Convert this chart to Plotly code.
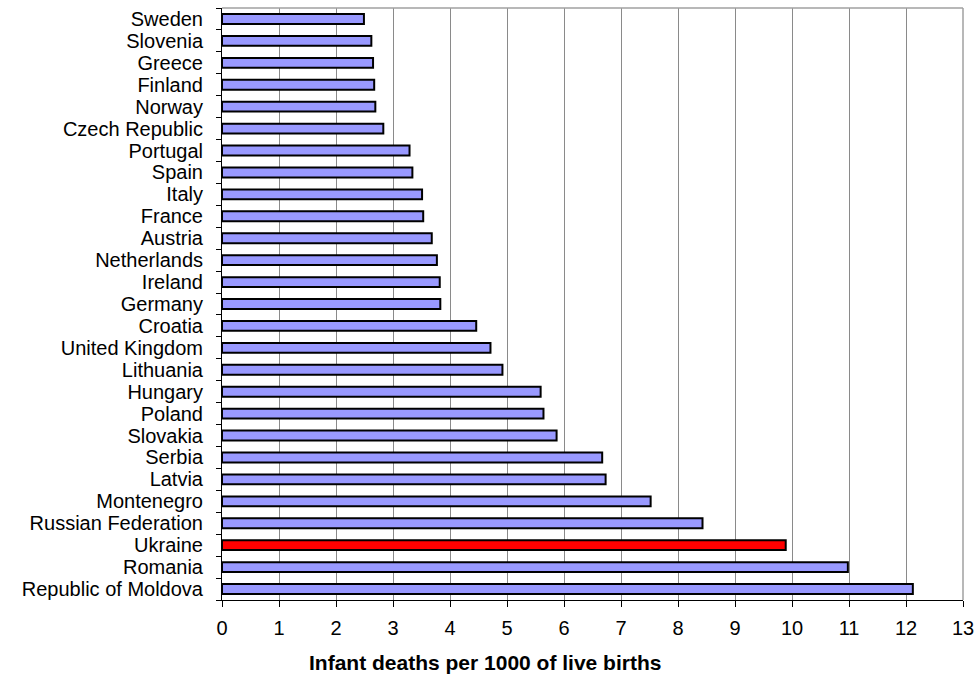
import plotly.graph_objects as go

countries = ["Sweden", "Slovenia", "Greece", "Finland", "Norway", "Czech Republic",
             "Portugal", "Spain", "Italy", "France", "Austria", "Netherlands", "Ireland",
             "Germany", "Croatia", "United Kingdom", "Lithuania", "Hungary", "Poland",
             "Slovakia", "Serbia", "Latvia", "Montenegro", "Russian Federation",
             "Ukraine", "Romania", "Republic of Moldova"]
values = [2.49, 2.62, 2.65, 2.67, 2.69, 2.83, 3.29, 3.34, 3.51, 3.53, 3.68, 3.77, 3.82,
          3.83, 4.46, 4.71, 4.92, 5.59, 5.64, 5.87, 6.67, 6.73, 7.52, 8.43, 9.89, 10.98, 12.12]
highlight = "Ukraine"
x_ticks = list(range(0, 14))
x_title = "Infant deaths per 1000 of live births"

colors = ["#FF0000" if c == highlight else "#9999FF" for c in countries]

fig = go.Figure(go.Bar(
    x=values, y=countries, orientation="h",
    marker=dict(color=colors, line=dict(color="black", width=2)),
))

font_family = "Liberation Sans, Arial, sans-serif"
fig.update_layout(
    width=977, height=675,
    margin=dict(l=222, r=14, t=8, b=75, autoexpand=False),
    paper_bgcolor="white", plot_bgcolor="white",
    bargap=0.55,
    showlegend=False,
    font=dict(family=font_family, size=20, color="black"),
    xaxis=dict(
        range=[0, 13], tickmode="array", tickvals=x_ticks,
        ticktext=[str(t) for t in x_ticks],
        showgrid=True, gridcolor="#8a8a8a", gridwidth=1,
        showline=True, linecolor="black", linewidth=1,
        ticks="outside", ticklen=6, tickcolor="black",
        tickfont=dict(size=20), zeroline=False, ticklabelstandoff=4,
        ticklabeloverflow="allow",
    ),
    yaxis=dict(
        autorange="reversed", type="category",
        tickmode="array", tickvals=countries, ticktext=countries,
        showline=True, linecolor="black", linewidth=1,
        ticks="outside", ticklen=5, tickcolor="black", tickson="boundaries",
        tickfont=dict(size=20), showgrid=False, ticklabelstandoff=14,
    ),
    annotations=[
        dict(text="<b>" + x_title + "</b>", xref="paper", yref="paper",
             x=0.355, y=0, yshift=-62, xanchor="center", yanchor="middle",
             showarrow=False, font=dict(size=21)),
    ],
    shapes=[
        dict(type="line", xref="paper", yref="paper", x0=0, x1=1, y0=1, y1=1,
             line=dict(color="#a0a0a0", width=1.5)),
        dict(type="line", xref="paper", yref="paper", x0=1, x1=1, y0=0, y1=1,
             line=dict(color="#a0a0a0", width=1.5)),
    ],
)

fig.write_html(
    "out.html",
    config={"displayModeBar": False},
    post_script="document.body.style.margin='0';document.body.style.overflow='hidden';",
)
